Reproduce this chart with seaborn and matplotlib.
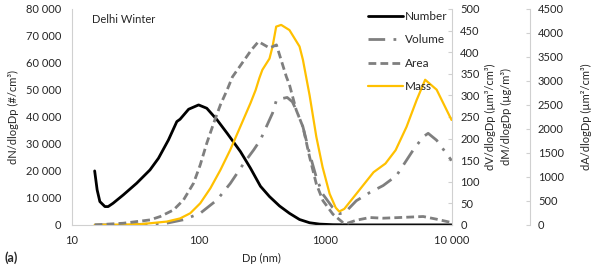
import matplotlib
matplotlib.use("Agg")
import matplotlib.pyplot as plt
from matplotlib.ticker import FixedLocator, FuncFormatter, NullLocator
import seaborn as sns

# Delhi winter size distributions
number_dp = [15.1, 15.8, 16.6, 18.2, 19.3, 21.1, 25.4, 32.4, 41.3, 48.2, 57.8, 67.3, 71.4,
             83.4, 100, 116, 140, 168, 214, 257, 308, 363, 436, 522, 627, 753, 903, 1150,
             1872, 10000]
number_n = [20000, 12960, 8640, 6790, 6790, 8020, 11100, 15430, 20370, 24690, 31480, 38270,
            39140, 42840, 44440, 43210, 38890, 33950, 27160, 20990, 14320, 10500, 7000, 4300,
            2000, 800, 300, 80, 0, 0]

volume_dp = [15.1, 30, 56.1, 76, 103, 140, 178, 228, 273, 308, 384, 412, 447, 501, 550, 590,
             667, 753, 851, 953, 1146, 1300, 1425, 1762, 2249, 2866, 3656, 4946, 5943, 6505,
             7586, 9950]
volume_v = [0, 0.5, 4, 12, 27, 58, 96, 143, 174, 197, 259, 289, 292, 295, 285, 266,
            227, 165, 110, 72, 40, 26, 28, 56, 75, 91, 114, 173, 204, 212,
            196, 149]

area_dp = [15.1, 25.4, 41.3, 49.7, 63.4, 76, 91.2, 103, 116, 131.5, 148.6, 168, 185, 230,
           261, 297, 363, 412, 494, 522, 590, 667, 753, 851, 960, 1150, 1380, 1470, 1762,
           2249, 2866, 3880, 5943, 7586, 9950]
area_a = [0, 35, 104, 174, 312, 521, 868, 1250, 1701, 2118, 2500, 2812, 3083, 3438,
          3645, 3819, 3686, 3750, 3083, 2920, 2395, 2043, 1414, 854, 504, 224, 49, 28, 98,
          154, 140, 154, 175, 119, 49]

mass_dp = [15.1, 34.4, 56.1, 71.4, 85.9, 103, 124, 148.6, 178, 214, 257, 282, 302, 319, 363,
           384, 410, 449, 522, 627, 667, 753, 851, 953, 1084, 1210, 1290, 1414, 1762, 2410,
           2990, 3600, 4390, 5275, 6160, 7590, 9950]
mass_m = [0, 1.5, 7.7, 15, 27, 50, 85, 127, 174, 228, 282, 312, 340, 359, 385,
          413, 459, 463, 451, 413, 382, 300, 204, 134, 72, 40, 31, 37, 72, 122,
          142, 173, 227, 289, 336, 313, 243]

x_ticks = [10, 100, 1000, 10000]

sns.set_style("white")
plt.rcParams['font.family'] = ['Lato', 'DejaVu Sans']
plt.rcParams['font.size'] = 8
txt = '#262626'
spine_col = '#d0d0d0'

fig = plt.figure(figsize=(6, 2.7), dpi=100)
ax = fig.add_axes([0.12, 0.167, 0.633, 0.8])
ax2 = ax.twinx()
ax3 = ax.twinx()

sns.lineplot(x=number_dp, y=number_n, ax=ax, color='black', linewidth=2, label='Number')
sns.lineplot(x=volume_dp, y=volume_v, ax=ax2, color='#7f7f7f', linewidth=2,
             linestyle=(0, (6, 3, 1, 3)), label='Volume')
sns.lineplot(x=area_dp, y=area_a, ax=ax3, color='#7f7f7f', linewidth=2,
             linestyle=(0, (2.8, 1.5)), label='Area')
sns.lineplot(x=mass_dp, y=mass_m, ax=ax2, color='#ffc000', linewidth=1.6, label='Mass')

for a in (ax, ax2, ax3):
    a.set_xscale('log')
    a.set_xlim(10, 10000)
    leg = a.get_legend()
    if leg:
        leg.remove()
    for s in a.spines.values():
        s.set_visible(False)


def excel_fmt(v, p):
    # Excel style: space separator only from five digits on
    v = int(v)
    if v >= 10000:
        return f"{v:,}".replace(",", " ")
    return str(v)


thousands = FuncFormatter(excel_fmt)

ax.xaxis.set_major_locator(FixedLocator(x_ticks))
ax.xaxis.set_minor_locator(NullLocator())
ax.xaxis.set_major_formatter(thousands)
ax.set_ylim(0, 80000)
ax.set_yticks(range(0, 80001, 10000))
ax.yaxis.set_major_formatter(thousands)
ax.tick_params(axis='both', length=0, colors=txt, labelsize=8)
ax.tick_params(axis='y', pad=8)
ax.tick_params(axis='x', pad=7)
ax.spines['left'].set_visible(True)
ax.spines['bottom'].set_visible(True)
ax.spines['left'].set_color(spine_col)
ax.spines['bottom'].set_color(spine_col)
ax.set_xlabel('Dp (nm)', color=txt, labelpad=5)
ax.set_ylabel('dN/dlogDp (#/cm³)', color=txt, labelpad=5)

ax2.set_ylim(0, 500)
ax2.set_yticks(range(0, 501, 50))
ax2.spines['right'].set_visible(True)
ax2.spines['right'].set_color(spine_col)
ax2.tick_params(axis='y', direction='in', length=3, colors=txt, pad=6)
ax2.yaxis.set_tick_params(color=spine_col)
ax2.set_ylabel('dV/dlogDp (µm³/cm³)\ndM/dlogDp (µg/m³)', color=txt, labelpad=4,
               linespacing=1.5)

ax3.set_ylim(0, 4500)
ax3.set_yticks(range(0, 4501, 500))
ax3.spines['right'].set_visible(True)
ax3.spines['right'].set_position(('axes', 1.205))
ax3.spines['right'].set_color(spine_col)
ax3.tick_params(axis='y', direction='in', length=3, colors=txt, pad=6)
ax3.yaxis.set_tick_params(color=spine_col)
ax3.set_ylabel('dA/dlogDp (µm²/cm³)', color=txt, labelpad=12)

for a in (ax2, ax3):
    a.tick_params(axis='x', which='both', length=0, labelbottom=False)

ax.text(0.053, 0.95, 'Delhi Winter', transform=ax.transAxes, color=txt,
        fontsize=8, va='center', ha='left')
fig.text(0.008, 0.045, '(a)', color=txt, fontsize=9, fontweight='bold',
         va='center', ha='left')

handles = []
labels = []
for a in (ax, ax2, ax3):
    h, l = a.get_legend_handles_labels()
    handles += h
    labels += l
order = ['Number', 'Volume', 'Area', 'Mass']
hl = dict(zip(labels, handles))
ax3.legend([hl[k] for k in order], order, loc='upper left',
           bbox_to_anchor=(362 / 600, 1 - 5 / 270), bbox_transform=fig.transFigure,
           frameon=False, handlelength=3.0, handletextpad=0.1, labelspacing=1.05,
           borderpad=0, fontsize=8.5, labelcolor=txt)

fig.savefig('out.png', dpi=100)
